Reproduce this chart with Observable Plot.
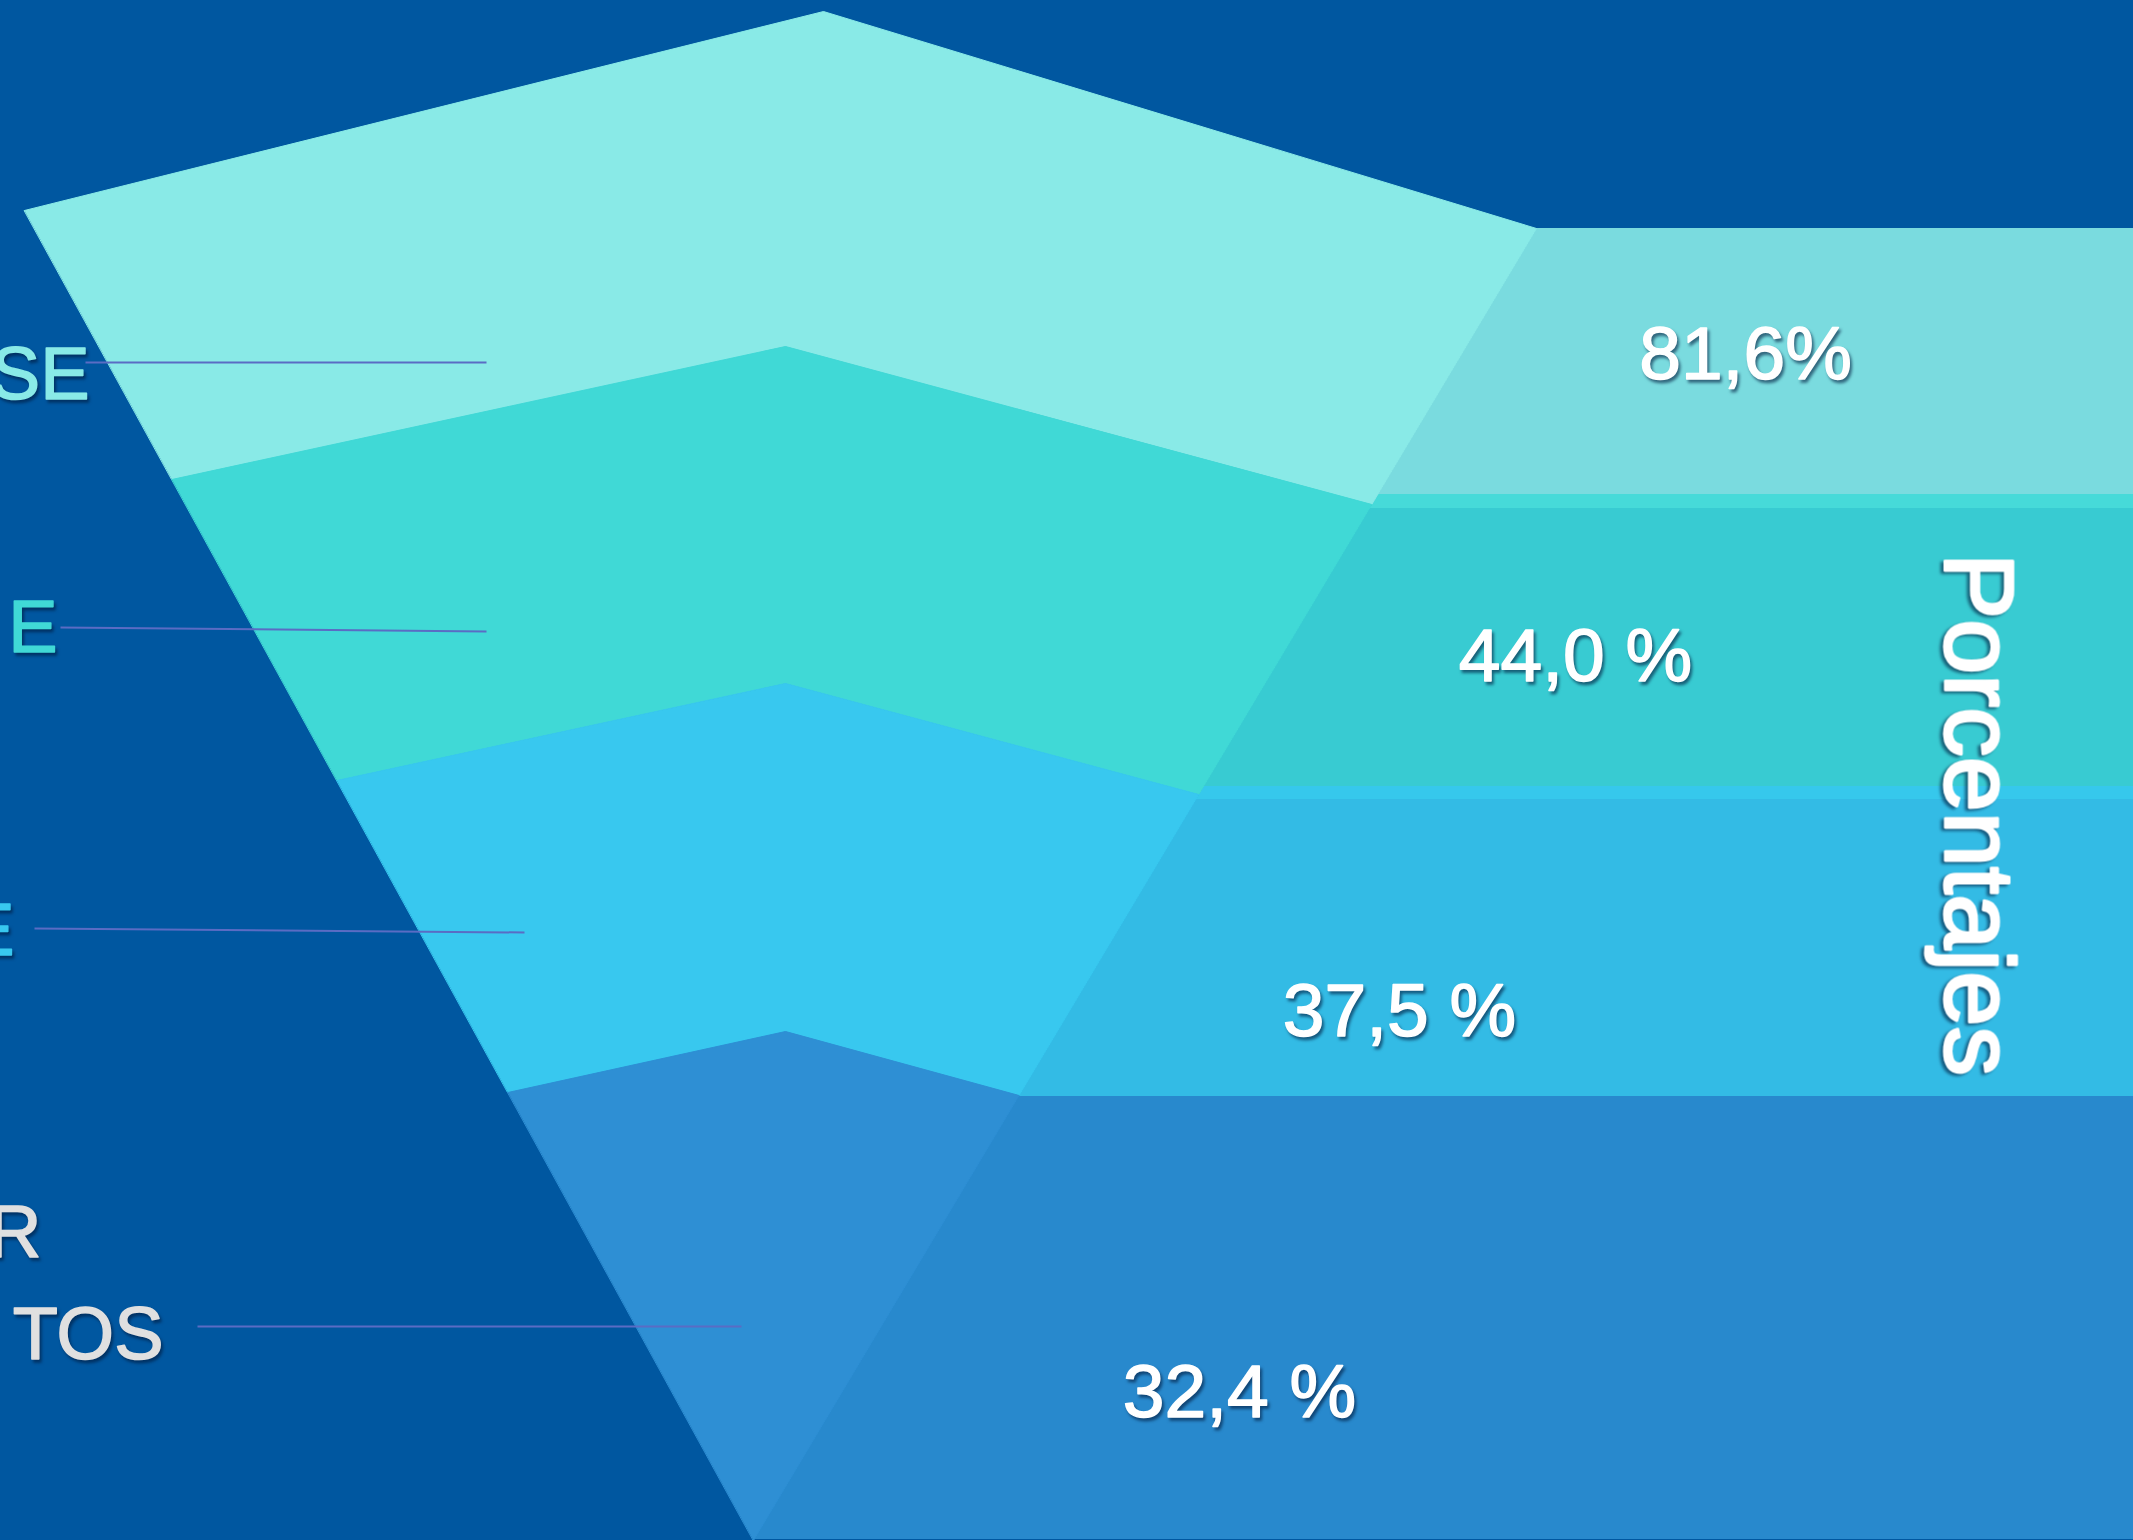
<!DOCTYPE html>
<html>
<head>
<meta charset="utf-8">
<script src="https://cdn.jsdelivr.net/npm/d3@7"></script>
<script src="https://cdn.jsdelivr.net/npm/@observablehq/plot@0.6"></script>
<style>
  html, body { margin: 0; padding: 0; background: #0057A0; overflow: hidden; }
  #chart svg { display: block; }
  .funnel text { filter: drop-shadow(2px 3px 1.5px rgba(0, 25, 60, 0.6)); }
</style>
</head>
<body>
<div id="chart"></div>
<script>
// ---------- DATA ----------
const categories = ["SE", "E", "E", "R\nTOS"];          // visible label fragments (clipped at left edge, as in the original)
const values = [81.6, 44.0, 37.5, 32.4];
const valueLabels = ["81,6%", "44,0 %", "37,5 %", "32,4 %"];
const axisTitle = "Porcentajes";

// ---------- STYLE ----------
const bg = "#0057A0";
const frontColors = ["#89EAE7", "#40D9D6", "#38C8EF", "#2E8FD4"];
const sideColors  = ["#7ADBDF", "#38CBD2", "#33BBE5", "#2889CD"];
const rimColors   = [null, "#46DAD9", "#36C8EC", null];
const labelColors = ["#89EAE7", "#40D9D6", "#38C8EF", "#E0E0E0"];
const leaderColor = "#5A6CC4";
const font = "'Liberation Sans', Arial, Helvetica, sans-serif";

// ---------- LAYOUT (canvas units) ----------
const W = 2133, H = 1540;
const layout = {
  apex: [823, 11],
  leftTop: [24, 210],
  sideTop: [1536, 228],
  bottom: [753, 1540],
  peakX: 785,
  peakY: [346, 683, 1031],
  leftY: [210, 479, 780, 1092, 1540],
  rightY: [228, 504, 794, 1095, 1540],
  bandTop: [228, 507, 798, 1096],
  bandBottom: [494, 786, 1096, 1538],
  rimTop: [null, 494, 786, null],
  valueX: [1745, 1575, 1399, 1239],
  valueY: [378, 680, 1035, 1416],
  labelEndX: [[89], [57], [14], [41, 163]],
  labelBaseY: [[398], [651], [954], [1256, 1358]],
  leaderFrom: [[85, 362], [60, 627], [34, 928], [197, 1326]],
  leaderTo: [[486, 362], [486, 631], [524, 932], [741, 1326]],
  titleX: 1977, titleY: 814
};

const lerpX = (a, b, y) => a[0] + (b[0] - a[0]) * (y - a[1]) / (b[1] - a[1]);
const leftX = y => lerpX(layout.leftTop, layout.bottom, y);
const sideX = y => lerpX(layout.sideTop, layout.bottom, y);

// front-face polygons
const frontPolys = values.map((v, i) => {
  const pts = [];
  const ly0 = layout.leftY[i], ly1 = layout.leftY[i + 1];
  const ry0 = layout.rightY[i], ry1 = layout.rightY[i + 1];
  pts.push([leftX(ly0), ly0]);
  pts.push(i === 0 ? layout.apex : [layout.peakX, layout.peakY[i - 1]]);
  pts.push([sideX(ry0), ry0]);
  pts.push([sideX(ry1), ry1]);
  if (i < values.length - 1) {
    pts.push([layout.peakX, layout.peakY[i]]);
    pts.push([leftX(ly1), ly1]);
  }
  return pts.map(p => ({x: p[0], y: p[1], i}));
});

// right-side band polygons
const bandPoly = (t, b) => [[sideX(t), t], [W, t], [W, b], [sideX(b), b]].map(p => ({x: p[0], y: p[1]}));
const sidePolys = values.map((v, i) => bandPoly(layout.bandTop[i], layout.bandBottom[i]));
const rimPolys = values.map((v, i) => rimColors[i] ? bandPoly(layout.rimTop[i], layout.bandTop[i]) : null);

// label lines
const labelLines = categories.flatMap((c, i) =>
  c.split("\n").map((t, j) => ({text: t, i, x: layout.labelEndX[i][j], y: layout.labelBaseY[i][j]})));

const leaders = values.map((v, i) => ({
  x1: layout.leaderFrom[i][0], y1: layout.leaderFrom[i][1],
  x2: layout.leaderTo[i][0], y2: layout.leaderTo[i][1]
}));

const marks = [];
sidePolys.forEach((p, i) => marks.push(Plot.line(p, {x: "x", y: "y", curve: "linear-closed", fill: sideColors[i], stroke: sideColors[i], strokeWidth: 1})));
rimPolys.forEach((p, i) => { if (p) marks.push(Plot.line(p, {x: "x", y: "y", curve: "linear-closed", fill: rimColors[i], stroke: rimColors[i], strokeWidth: 1})); });
frontPolys.forEach((p, i) => marks.push(Plot.line(p, {x: "x", y: "y", curve: "linear-closed", fill: frontColors[i], stroke: frontColors[i], strokeWidth: 1})));

marks.push(Plot.link(leaders, {x1: "x1", y1: "y1", x2: "x2", y2: "y2", stroke: leaderColor, strokeWidth: 2}));

marks.push(Plot.text(labelLines, {
  x: "x", y: "y", text: "text", textAnchor: "end", lineAnchor: "bottom",
  fill: d => labelColors[d.i], stroke: d => labelColors[d.i], strokeWidth: 1.5,
  paintOrder: "stroke", fontSize: 74
}));

marks.push(Plot.text(values, {
  x: (d, i) => layout.valueX[i], y: (d, i) => layout.valueY[i],
  text: (d, i) => valueLabels[i], textAnchor: "middle", lineAnchor: "bottom",
  fill: "white", stroke: "white", strokeWidth: 1.5, paintOrder: "stroke", fontSize: 75
}));

marks.push(Plot.text([axisTitle], {
  x: () => layout.titleX, y: () => layout.titleY, text: d => d,
  rotate: 90, textAnchor: "middle", lineAnchor: "middle",
  fill: "white", stroke: "white", strokeWidth: 3, paintOrder: "stroke", fontSize: 99
}));

const chart = Plot.plot({
  width: W, height: H, margin: 0,
  className: "funnel",
  x: {domain: [0, W], range: [0, W], axis: null},
  y: {domain: [0, H], range: [0, H], axis: null},
  style: {background: bg, fontFamily: font, overflow: "hidden"},
  marks
});
document.getElementById("chart").appendChild(chart);
</script>
</body>
</html>
